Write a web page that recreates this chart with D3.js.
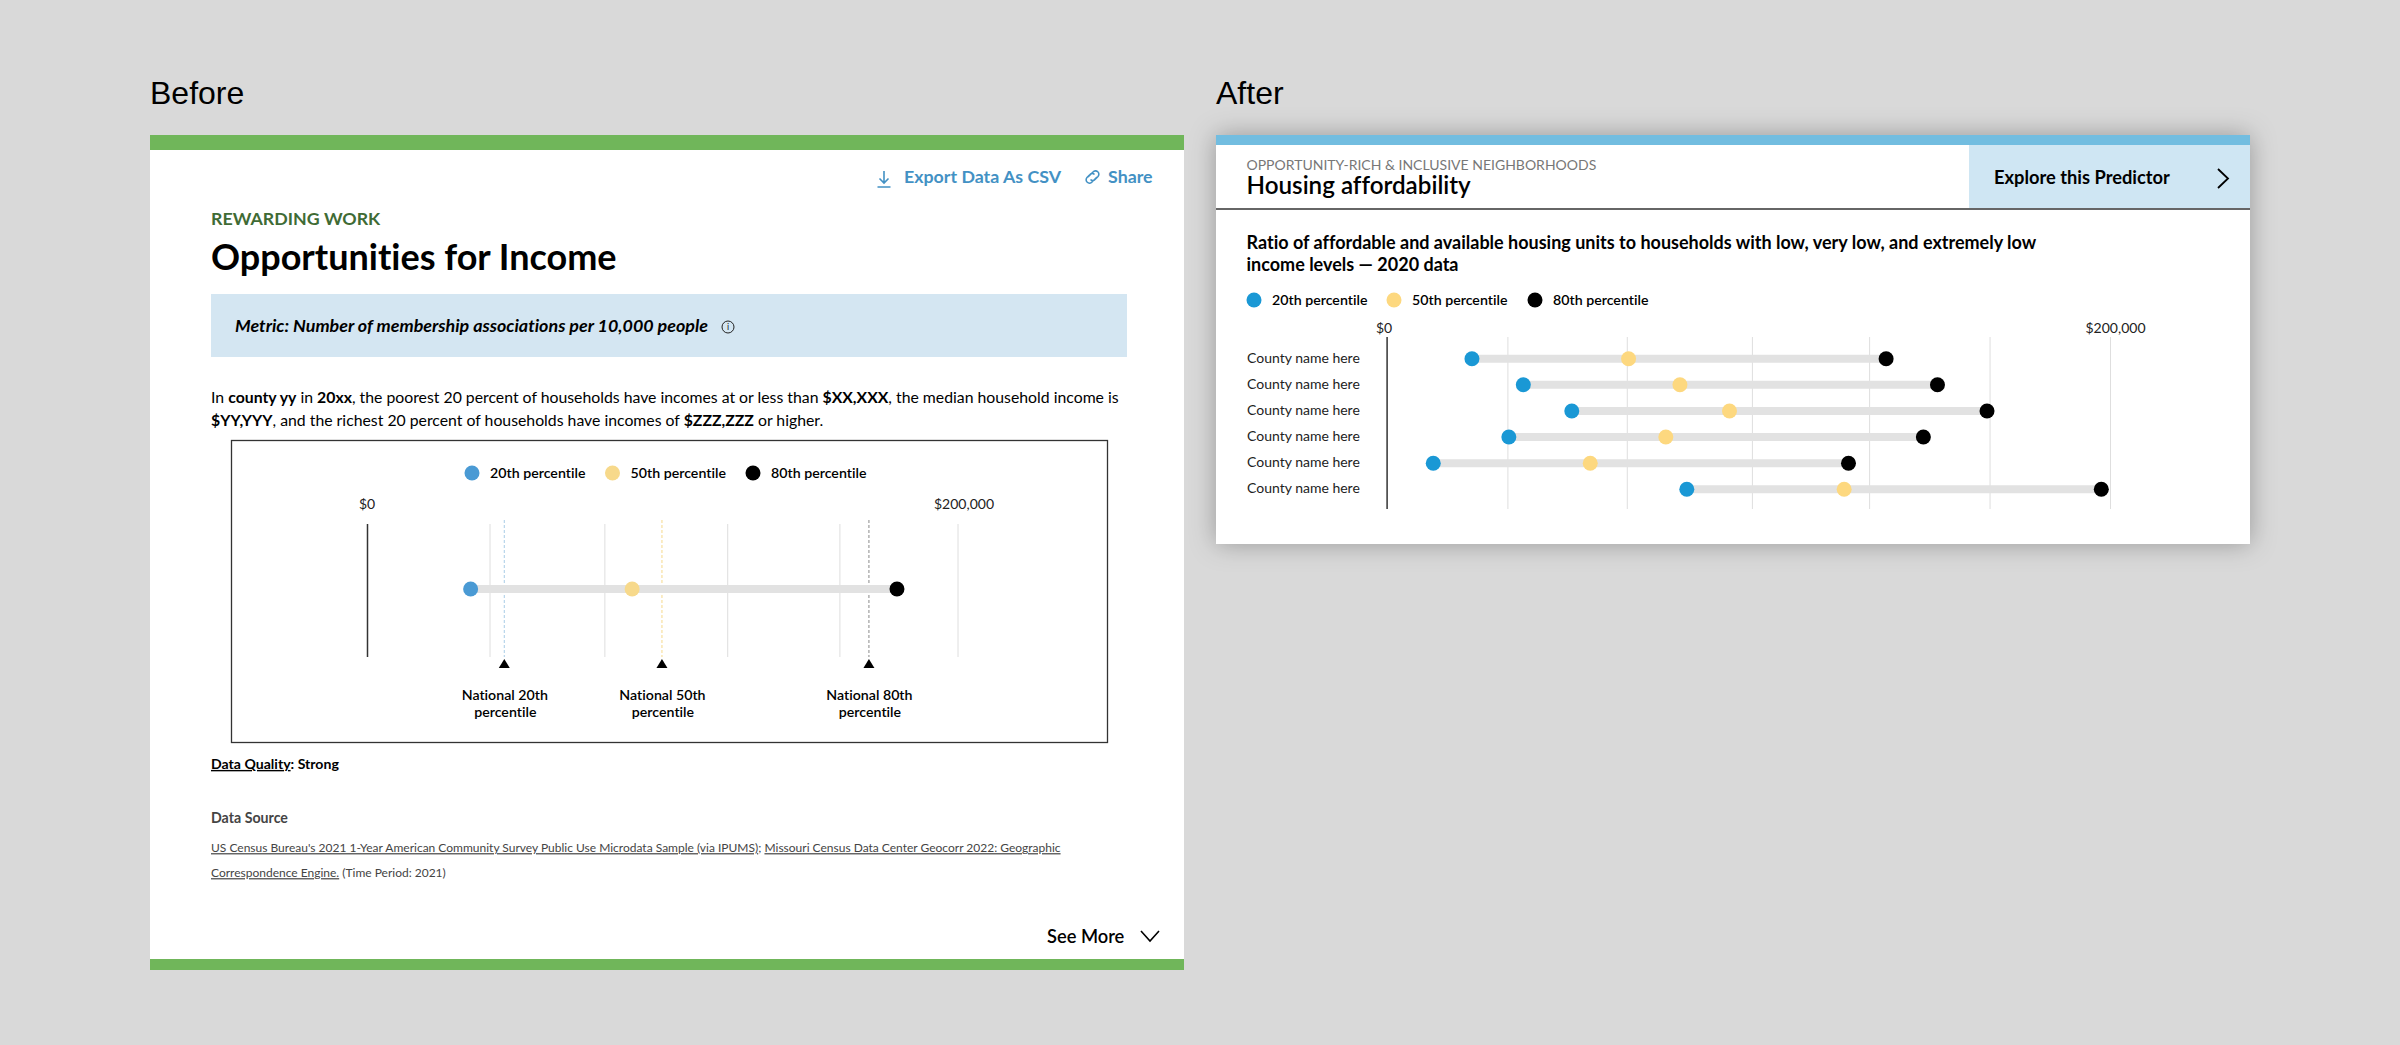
<!DOCTYPE html>
<html>
<head>
<meta charset="utf-8">
<script src="https://cdn.jsdelivr.net/npm/d3@7"></script>
<style>
    html, body { margin: 0; padding: 0; background: #d9d9d9; }
    svg { display: block; }
    text { font-family: Lato, sans-serif; fill: #000; font-variant-ligatures: none; }
</style>
</head>
<body>
<svg id="chart"></svg>
<script>
// values, in dollars
const legendLabels = ["20th percentile", "50th percentile", "80th percentile"];
const beforeColors = ["#4a9ad4", "#f7d98b", "#000000"];
const afterColors = ["#1a98d5", "#fdd87f", "#000000"];

const beforeP20 = [35100];
const beforeP50 = [89800];
const beforeP80 = [179500];
const beforeGrid = [41500, 80400, 122000, 160000, 200000];
const nationalLabels = [["National 20th", "percentile"], ["National 50th", "percentile"], ["National 80th", "percentile"]];
const nationalValues = [46500, 99900, 170000];
const nationalColors = ["#a9cde6", "#f6d98c", "#8a8a8a"];

const counties = ["County name here", "County name here", "County name here", "County name here", "County name here", "County name here"];
const afterP20 = [23600, 37800, 51200, 33800, 12900, 83000];
const afterP50 = [66900, 81100, 94800, 77200, 56300, 126500];
const afterP80 = [138100, 152300, 166000, 148400, 127700, 197600];
const afterGrid = [33400, 66400, 101000, 133400, 166700, 200000];

const axisEnds = [0, 200000];

const width = 2400;
const height = 1045;

const svg = d3.select("#chart")
    .attr("width", width)
    .attr("height", height)
    .attr("viewBox", [0, 0, width, height]);

const shadow = svg.append("defs").append("filter")
    .attr("id", "cardShadow")
    .attr("x", "-5%").attr("y", "-15%")
    .attr("width", "110%").attr("height", "130%");
shadow.append("feDropShadow")
    .attr("dx", 0).attr("dy", 0)
    .attr("stdDeviation", 13)
    .attr("flood-color", "#000")
    .attr("flood-opacity", 0.3);

// text helper, parts is a string or a list of [string, style]
function addText(x, y, parts, opts) {
    opts = opts || {};
    let t = svg.append("text")
        .attr("x", x)
        .attr("y", y)
        .attr("dy", "0.35em")
        .attr("font-size", opts.size || 14.3)
        .attr("font-weight", opts.weight || 400)
        .attr("font-style", opts.italic ? "italic" : null)
        .attr("text-anchor", opts.anchor || "start")
        .style("fill", opts.color || "#000")
        .style("font-family", opts.family || null);
    if (typeof parts === "string") {
        t.text(parts);
    } else {
        parts.forEach(p => {
            t.append("tspan")
                .text(p[0])
                .attr("font-weight", p[1].weight || null)
                .attr("text-decoration", p[1].underline ? "underline" : null);
        });
    }
    return t;
}

function addRect(x, y, w, h, color) {
    return svg.append("rect")
        .attr("x", x).attr("y", y)
        .attr("width", w).attr("height", h)
        .attr("fill", color);
}

function addChevron(points, strokeWidth) {
    svg.append("path")
        .attr("d", d3.line()(points))
        .attr("fill", "none")
        .attr("stroke", "#000")
        .attr("stroke-width", strokeWidth);
}

function drawLegend(y, xs, colors) {
    legendLabels.forEach((label, i) => {
        svg.append("circle")
            .attr("cx", xs[i])
            .attr("cy", y)
            .attr("r", 7.5)
            .attr("fill", colors[i]);
        addText(xs[i] + 18, y, label, {size: 14.2, weight: 600});
    });
}

// shared dumbbell drawing, both panels use it
function drawDumbbell(cfg) {
    let x = d3.scaleLinear().domain(axisEnds).range(cfg.xRange);
    let g = svg.append("g");

    let grid = g.append("g")
        .attr("transform", `translate(0, ${cfg.axisBottom})`)
        .call(d3.axisTop(x).tickValues(cfg.grid).tickSize(cfg.axisBottom - cfg.axisTop).tickFormat(""));
    grid.select(".domain").remove();
    grid.selectAll("line").attr("stroke", "#dedede").attr("stroke-width", 1);

    let zero = g.append("g")
        .attr("transform", `translate(0, ${cfg.axisBottom})`)
        .call(d3.axisTop(x).tickValues([0]).tickSize(cfg.axisBottom - cfg.axisTop).tickFormat(""));
    zero.select(".domain").remove();
    zero.selectAll("line").attr("stroke", "#333").attr("stroke-width", 1.5);

    if (cfg.before) cfg.before(x, g);

    axisEnds.forEach((v, i) => {
        addText(x(v) + cfg.labelShift[i], cfg.labelY, v === 0 ? "$0" : "$" + d3.format(",")(v), {size: 14, anchor: "middle", color: "#222"});
    });

    let rows = g.selectAll("g.row")
        .data(cfg.p20.map((d, i) => ({i: i, p20: d, p50: cfg.p50[i], p80: cfg.p80[i]})))
        .join("g")
        .classed("row", true)
        .attr("transform", d => `translate(0, ${cfg.y(d.i)})`);
    rows.append("line")
        .attr("x1", d => x(d.p20))
        .attr("x2", d => x(d.p80))
        .attr("stroke", "#e2e2e2")
        .attr("stroke-width", 8);
    [["p20", 0], ["p50", 1], ["p80", 2]].forEach(k => {
        rows.append("circle")
            .attr("cx", d => x(d[k[0]]))
            .attr("r", 7.5)
            .attr("fill", cfg.colors[k[1]]);
    });
}

// titles
addText(150, 93, "Before", {size: 32, family: "Liberation Sans"});
addText(1216, 93, "After", {size: 32, family: "Liberation Sans"});

// ---- before panel ----
addRect(150, 135, 1034, 835, "#fff");
addRect(150, 135, 1034, 15, "#70b65a");
addRect(150, 959, 1034, 11, "#70b65a");

const linkBlue = "#4391c4";
addText(904, 177, "Export Data As CSV", {size: 17.8, weight: 700, color: linkBlue});
addText(1108, 177, "Share", {size: 17.8, weight: 700, color: linkBlue});
svg.append("path")
    .attr("d", "M884 171V183M879.5 178.5L884 183L888.5 178.5M877.5 187H890.5")
    .attr("fill", "none").attr("stroke", linkBlue).attr("stroke-width", 1.6);
svg.append("path")
    .attr("d", "M1087 178l5-5a3.2 3.2 0 0 1 5 4.5l-3 3a3 3 0 0 1-4.5 0M1096 178l-5 5a3.2 3.2 0 0 1-5-4.5l3-3a3 3 0 0 1 4.5 0")
    .attr("transform", "translate(1 -1)")
    .attr("fill", "none").attr("stroke", linkBlue).attr("stroke-width", 1.6);

addText(211, 218.5, "REWARDING WORK", {size: 17.8, weight: 700, color: "#3f6b35"});
addText(211, 257, "Opportunities for Income", {size: 36, weight: 700});

addRect(211, 294, 916, 63, "#d4e6f2");
addText(235, 326, "Metric: Number of membership associations per 10,000 people", {size: 17.9, weight: 700, italic: true});
svg.append("circle").attr("cx", 728).attr("cy", 327).attr("r", 6)
    .attr("fill", "none").attr("stroke", "#222").attr("stroke-width", 1);
addText(728, 327, "i", {size: 9, anchor: "middle", color: "#222"});

addText(211, 397, [["In ", {}], ["county yy", {weight: 700}], [" in ", {}], ["20xx", {weight: 700}],
    [", the poorest 20 percent of households have incomes at or less than ", {}], ["$XX,XXX", {weight: 700}],
    [", the median household income is", {}]], {size: 15.8});
addText(211, 420, [["$YY,YYY", {weight: 700}], [", and the richest 20 percent of households have incomes of ", {}],
    ["$ZZZ,ZZZ", {weight: 700}], [" or higher.", {}]], {size: 15.8});

svg.append("rect")
    .attr("x", 231.5).attr("y", 440.5)
    .attr("width", 876).attr("height", 302)
    .attr("fill", "#fff")
    .attr("stroke", "#333")
    .attr("stroke-width", 1.3);

drawLegend(473, [472, 612.5, 753], beforeColors);

drawDumbbell({
    xRange: [367, 957.5],
    grid: beforeGrid,
    axisTop: 524,
    axisBottom: 657,
    labelY: 504,
    labelShift: [0, 6.5],
    p20: beforeP20,
    p50: beforeP50,
    p80: beforeP80,
    colors: beforeColors,
    y: d3.scalePoint().domain([0]).range([589, 589]),
    before: (x, g) => {
        g.selectAll("line.national")
            .data(nationalValues)
            .join("line")
            .classed("national", true)
            .attr("x1", d => x(d)).attr("x2", d => x(d))
            .attr("y1", 520).attr("y2", 657)
            .attr("stroke", (d, i) => nationalColors[i])
            .attr("stroke-width", 1)
            .attr("stroke-dasharray", "3 2");
        g.selectAll("path.marker")
            .data(nationalValues)
            .join("path")
            .classed("marker", true)
            .attr("d", d => `M${x(d)} 659l5.5 9h-11z`)
            .attr("fill", "#000");
        nationalValues.forEach((v, i) => {
            addText(x(v) + 0.5, 695, nationalLabels[i][0], {size: 14.2, weight: 600, anchor: "middle"});
            addText(x(v) + 1, 712, nationalLabels[i][1], {size: 14.2, weight: 600, anchor: "middle"});
        });
    }
});

addText(211, 764, [["Data Quality", {underline: true}], [": Strong", {}]], {size: 14.1, weight: 700});
addText(211, 818, "Data Source", {size: 14.2, weight: 700, color: "#444"});
addText(211, 848, [["US Census Bureau's 2021 1-Year American Community Survey Public Use Microdata Sample (via IPUMS)", {underline: true}],
    ["; ", {}], ["Missouri Census Data Center Geocorr 2022: Geographic", {underline: true}]], {size: 12, color: "#444"});
addText(211, 873, [["Correspondence Engine.", {underline: true}], [" (Time Period: 2021)", {}]], {size: 12, color: "#444"});

addText(1047, 937, "See More", {size: 18.3, weight: 600});
addChevron([[1141, 931], [1150, 941], [1159, 931]], 1.6);

// ---- after panel ----
svg.append("rect")
    .attr("x", 1216).attr("y", 135)
    .attr("width", 1034).attr("height", 409)
    .attr("fill", "#fff")
    .attr("filter", "url(#cardShadow)");
addRect(1216, 135, 1034, 10, "#72bde0");
addRect(1969, 145, 281, 63, "#cfe6f3");
addRect(1216, 208, 1034, 2, "#666");

addText(1246.5, 165, "OPPORTUNITY-RICH & INCLUSIVE NEIGHBORHOODS", {size: 14, color: "#777"});
addText(1246.5, 186, "Housing affordability", {size: 24.2, weight: 600});
addText(1994, 178, "Explore this Predictor", {size: 18.3, weight: 700});
addChevron([[2218, 169], [2228, 178.5], [2218, 188]], 1.8);

addText(1246.5, 243, "Ratio of affordable and available housing units to households with low, very low, and extremely low", {size: 18, weight: 700});
addText(1246.5, 265, "income levels \u2014 2020 data", {size: 18, weight: 700});

drawLegend(300, [1254, 1394, 1535], afterColors);

const afterY = d3.scalePoint().domain(d3.range(counties.length)).range([358.7, 489.3]);

drawDumbbell({
    xRange: [1386.6, 2110],
    grid: afterGrid,
    axisTop: 337,
    axisBottom: 509,
    labelY: 328,
    labelShift: [-2.5, 5.5],
    p20: afterP20,
    p50: afterP50,
    p80: afterP80,
    colors: afterColors,
    y: afterY
});

counties.forEach((c, i) => {
    addText(1247, afterY(i) - 1, c, {size: 14, color: "#222"});
});
</script>
</body>
</html>
